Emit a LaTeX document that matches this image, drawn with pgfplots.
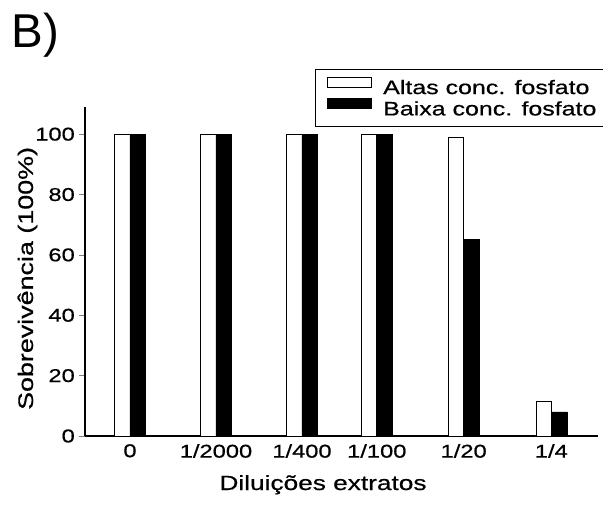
\documentclass[border=0pt]{standalone}
\usepackage{fontspec}
\setmainfont{Liberation Sans}[FakeStretch=1.28, FakeBold=0.6]
\newfontfamily\plainsans{Liberation Sans}
\usepackage{pgfplots}
\pgfplotsset{compat=1.18}
\pgfplotsset{boxlegend/.style={legend image code/.code={\draw[##1, line width=0.7pt] (0pt,1pt) rectangle (44pt,11pt);}}}

\begin{document}
\begin{tikzpicture}
\path[use as bounding box] (0,0) rectangle (603pt,-509pt);
\node[anchor=base west, inner sep=0pt, font=\plainsans\fontsize{47.5}{50}\selectfont] at (11.5pt,-47pt) {B)};
\begin{axis}[
    at={(85pt,-436pt)}, anchor=south west,
    scale only axis, width=513pt, height=329pt,
    xmin=-0.523, xmax=5.442, ymin=0, ymax=109,
    axis x line=bottom, axis y line=left,
    axis line style={-, line width=1.3pt},
    ybar, bar width=15.5pt,
    xtick={0,1,2,2.87,3.88,4.9},
    xticklabels={0,1/2000,1/400,1/100,1/20,1/4},
    ytick={0,20,40,60,80,100},
    tick align=outside, major tick length=6pt,
    ytick style={line width=0.8pt},
    xtick style={draw=none},
    /pgf/number format/assume math mode=true,
    ticklabel style={font=\fontsize{18.5}{22}\selectfont},
    yticklabel style={inner sep=0pt, xshift=-4pt},
    xticklabel style={inner sep=0pt, anchor=north, yshift=-2pt},
    xlabel={Diluições extratos},
    ylabel={Sobrevivência (100\%)},
    xlabel style={at={(axis description cs:0.464,0)}, anchor=base, yshift=-54pt, font=\fontsize{20.5}{24}\selectfont},
    ylabel style={at={(axis description cs:-0.1014,0.479)}, anchor=base, font=\fontsize{21}{25}\selectfont},
    legend style={at={(axis description cs:0.448,1.1155)}, anchor=north west,
        draw=black, line width=1.4pt, fill=white,
        inner xsep=11pt, inner ysep=7pt, column sep=12pt, row sep=0pt,
        font=\fontsize{19.5}{23}\selectfont,
        nodes={inner sep=0pt, text height=16pt, text depth=4pt}},
    legend cell align=left,
]
% Altas conc. fosfato
\addplot[fill=white, draw=black, line width=0.7pt, bar shift=-7.75pt, boxlegend]
    coordinates {(0,100) (1,100) (2,100) (2.87,100) (3.88,99) (4.9,11.5)};
% Baixa conc. fosfato
\addplot[fill=black, draw=black, line width=0.7pt, bar shift=7.75pt, boxlegend]
    coordinates {(0,100) (1,100) (2,100) (2.87,100) (3.88,65) (4.9,8)};
\legend{Altas conc. fosfato, Baixa conc. fosfato}
\end{axis}
\end{tikzpicture}
\end{document}
